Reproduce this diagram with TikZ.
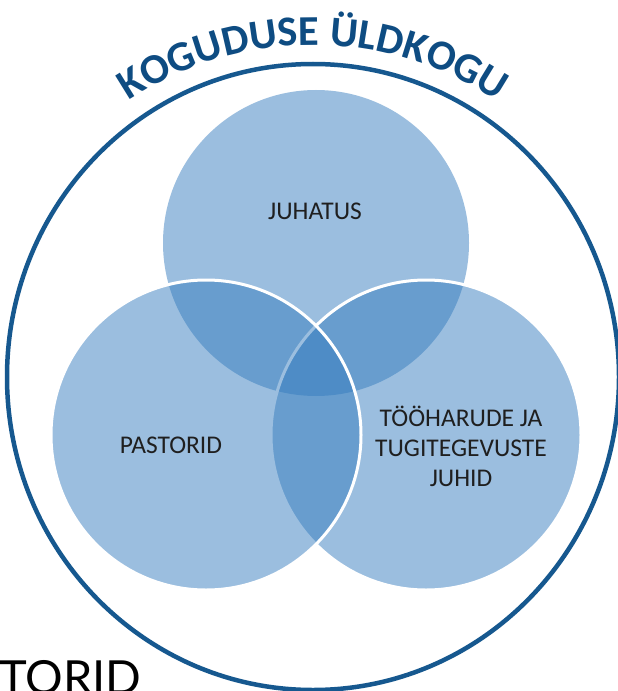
\documentclass[tikz,border=0pt]{standalone}
\usepackage{fontspec}
\setmainfont{Carlito}
\newfontfamily\strayfont{Lato}
\usetikzlibrary{decorations.text}
\definecolor{vennblue}{RGB}{52,124,190}
\definecolor{ringblue}{RGB}{22,88,143}
\definecolor{titleblue}{RGB}{14,76,130}

\begin{document}
\begin{tikzpicture}[x=1bp,y=1bp,
  venn/.style={fill=vennblue,fill opacity=0.49},
  vennedge/.style={venn,draw=white,line width=3bp},
  setlabel/.style={font=\fontsize{25.5bp}{30bp}\selectfont,text=black!88,align=center}]
\tikzstyle{every node}+=[inner sep=0pt]
\useasboundingbox (0,0) rectangle (618,-691);
\fill [white] (0,0) rectangle (618,-691);
% outer ring and its title
\draw [ringblue,line width=4.5bp] (313,-377) ellipse [x radius=306,y radius=313];
\path [decorate,decoration={text along path,text align=center,text color=titleblue,
  text={|\fontsize{42.5bp}{50bp}\selectfont\bfseries|KOGUDUSE ÜLDKOGU}}]
  (-19,-377) arc [start angle=180,end angle=0,radius=332];
% the three sets
\fill [venn] (316,-243) circle (153);
\draw [vennedge] (426,-435) circle (155);
\draw [vennedge] (206,-435) circle (155);
\draw (315,-211) node[setlabel] (juhatus) {JUHATUS};
\draw (171,-445) node[setlabel] (pastorid) {PASTORID};
\draw (461,-446) node[setlabel] (juhid) {TÖÖHARUDE JA\\TUGITEGEVUSTE\\JUHID};
\draw (-1,-694) node[anchor=base west,font=\strayfont\fontsize{47bp}{56bp}\selectfont] (stray) {TORID};
\end{tikzpicture}
\end{document}
